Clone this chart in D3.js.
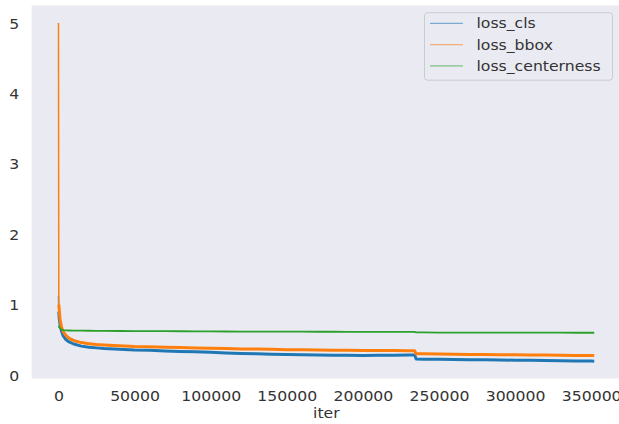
<!DOCTYPE html>
<html>
<head>
<meta charset="utf-8">
<script src="https://cdn.jsdelivr.net/npm/d3@7"></script>
<style>
  html, body { margin: 0; padding: 0; background: #ffffff; }
  svg { display: block; }
  text { font-family: "DejaVu Sans", sans-serif; fill: #333333; }
</style>
</head>
<body>
<svg id="chart" width="619" height="424"></svg>
<script>
// ---- data ----
const seriesNames = ["loss_cls", "loss_bbox", "loss_centerness"];
const seriesColors = ["#1f77b4", "#ff7f0e", "#2ca02c"];

const iters = [0, 200, 500, 1000, 2000, 3000, 5000, 7000, 10000, 15000, 20000, 25000, 30000,
  40000, 50000, 60000, 70000, 80000, 90000, 100000, 110000, 120000, 130000, 140000, 150000,
  160000, 170000, 180000, 190000, 200000, 210000, 220000, 230000, 234000, 235000, 240000,
  250000, 260000, 270000, 280000, 290000, 300000, 310000, 320000, 330000, 340000, 350000, 352000];

const lossCls = [1.12, 0.90, 0.80, 0.72, 0.62, 0.56, 0.50, 0.47, 0.44, 0.41, 0.395, 0.385, 0.375,
  0.365, 0.355, 0.35, 0.342, 0.335, 0.33, 0.322, 0.312, 0.305, 0.302, 0.296, 0.292,
  0.289, 0.285, 0.28, 0.279, 0.278, 0.281, 0.280, 0.283, 0.284, 0.226, 0.225,
  0.222, 0.220, 0.217, 0.215, 0.213, 0.210, 0.208, 0.205, 0.202, 0.200, 0.197, 0.196];

const lossBbox = [5.0, 1.00, 0.93, 0.80, 0.68, 0.62, 0.56, 0.52, 0.49, 0.46, 0.445, 0.432, 0.425,
  0.415, 0.405, 0.40, 0.395, 0.39, 0.385, 0.38, 0.375, 0.37, 0.368, 0.365, 0.36,
  0.357, 0.354, 0.352, 0.35, 0.348, 0.347, 0.346, 0.345, 0.345, 0.30, 0.30,
  0.297, 0.295, 0.292, 0.290, 0.289, 0.287, 0.285, 0.283, 0.280, 0.278, 0.277, 0.276];

const lossCenterness = [0.70, 0.69, 0.68, 0.665, 0.645, 0.638, 0.634, 0.632, 0.630, 0.629, 0.628, 0.627, 0.626,
  0.625, 0.624, 0.623, 0.622, 0.621, 0.620, 0.619, 0.618, 0.617, 0.616, 0.616, 0.615,
  0.615, 0.614, 0.614, 0.613, 0.613, 0.612, 0.612, 0.611, 0.611, 0.604, 0.604,
  0.603, 0.603, 0.603, 0.602, 0.602, 0.602, 0.601, 0.601, 0.601, 0.600, 0.600, 0.600];

const xTicks = [0, 50000, 100000, 150000, 200000, 250000, 300000, 350000];
const yTicks = [0, 1, 2, 3, 4, 5];
const xLabel = "iter";

// ---- layout ----
const W = 619, H = 424;
const plot = { left: 31.7, right: 621, top: 5.4, bottom: 378.5 };
const SX = 1.12; // horizontal stretch of the reference picture's text

const svg = d3.select("#chart");

const x = d3.scaleLinear().domain([-17600, 369600]).range([plot.left, plot.right]);
const y = d3.scaleLinear().domain([-0.05, 5.25]).range([plot.bottom, plot.top]);

svg.append("rect")
  .attr("x", plot.left).attr("y", plot.top)
  .attr("width", W - plot.left).attr("height", plot.bottom - plot.top)
  .attr("fill", "#eaeaf2");

svg.append("clipPath").attr("id", "clip")
  .append("rect")
  .attr("x", plot.left).attr("y", plot.top)
  .attr("width", plot.right - plot.left).attr("height", plot.bottom - plot.top);

// ---- axes ----
const xAxis = svg.append("g")
  .attr("transform", `translate(0,${plot.bottom})`)
  .call(d3.axisBottom(x).tickValues(xTicks).tickSize(0).tickFormat(d3.format("d")));
xAxis.select(".domain").remove();
xAxis.selectAll("text")
  .attr("y", 23).attr("dy", "0")
  .attr("transform", `scale(${SX},1)`)
  .style("font-size", "14px")
  .style("font-family", "DejaVu Sans, sans-serif")
  .attr("fill", "#333333");

const yAxis = svg.append("g")
  .attr("transform", `translate(${plot.left},0)`)
  .call(d3.axisLeft(y).tickValues(yTicks).tickSize(0).tickFormat(d3.format("d")));
yAxis.select(".domain").remove();
yAxis.selectAll("text")
  .attr("x", -12.5 / SX).attr("dy", "0.36em")
  .attr("transform", `scale(${SX},1)`)
  .style("font-size", "14px")
  .style("font-family", "DejaVu Sans, sans-serif")
  .attr("fill", "#333333");

svg.append("text")
  .attr("transform", `translate(${(plot.left + plot.right) / 2},417.5) scale(${SX},1)`)
  .attr("text-anchor", "middle")
  .style("font-size", "14px")
  .text(xLabel);

// ---- lines ----
const seriesValues = [lossCls, lossBbox, lossCenterness];
const widths = [3, 3, 1.8];
const line = d3.line().x(d => x(d[0])).y(d => y(d[1]));
const g = svg.append("g").attr("clip-path", "url(#clip)");
seriesValues.forEach((vals, i) => {
  const pts = iters.map((it, k) => [it, vals[k]]);
  // initial spike drawn thin, the noisy band drawn wider
  g.append("path")
    .datum(pts.slice(0, 3))
    .attr("fill", "none")
    .attr("stroke", seriesColors[i])
    .attr("stroke-width", 1.5)
    .attr("d", line);
  g.append("path")
    .datum(pts.slice(1))
    .attr("fill", "none")
    .attr("stroke", seriesColors[i])
    .attr("stroke-width", widths[i])
    .attr("stroke-linejoin", "round")
    .attr("d", line);
});

// ---- legend ----
const lg = svg.append("g");
lg.append("rect")
  .attr("x", 424.5).attr("y", 12.7).attr("width", 188).attr("height", 67.5)
  .attr("rx", 3).attr("fill", "#eaeaf2").attr("stroke", "#cccccc").attr("stroke-width", 1);
seriesNames.forEach((name, i) => {
  const yy = 23.3 + i * 21.3;
  lg.append("line")
    .attr("x1", 430).attr("x2", 463).attr("y1", yy).attr("y2", yy)
    .attr("stroke", seriesColors[i]).attr("stroke-width", 1.2).attr("opacity", 0.55);
  lg.append("text")
    .attr("transform", `translate(476.5,${yy + 5}) scale(${SX},1)`)
    .style("font-size", "14px")
    .text(name);
});
</script>
</body>
</html>
